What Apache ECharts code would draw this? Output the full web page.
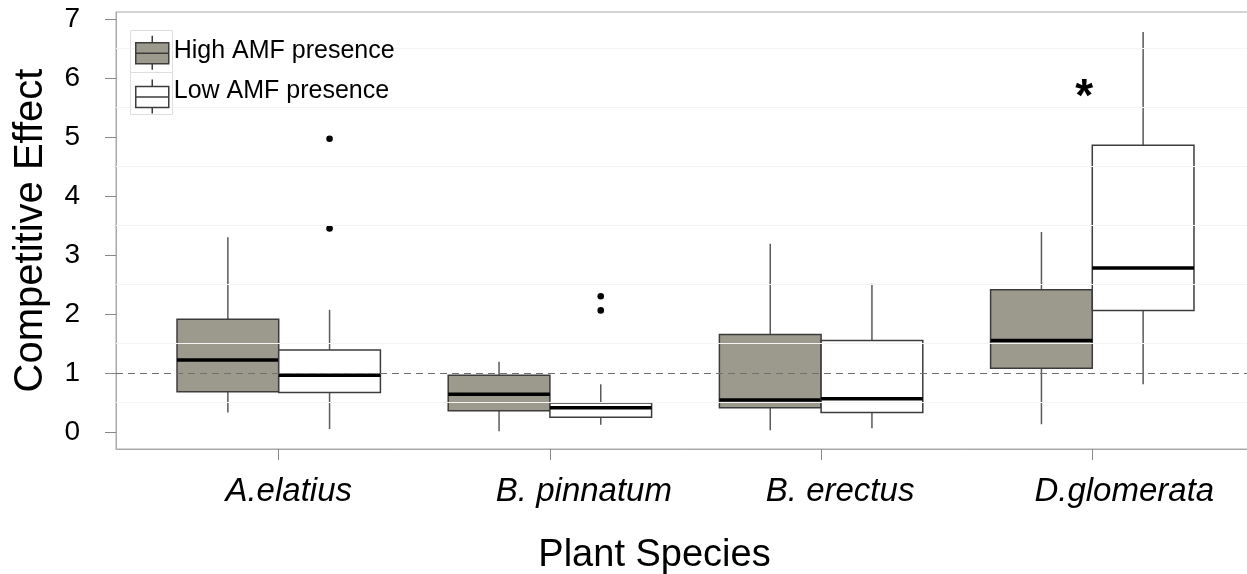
<!DOCTYPE html>
<html><head><meta charset="utf-8">
<script src="https://cdn.jsdelivr.net/npm/echarts@6/dist/echarts.min.js"></script>
<style>html,body{margin:0;padding:0;background:#fff}#c{width:1247px;height:574px}</style>
</head><body><div id="c"></div>
<script>
const categories = ['A.elatius', 'B. pinnatum', 'B. erectus', 'D.glomerata'];
const yTicks = [0, 1, 2, 3, 4, 5, 6, 7];
const xTicks = [1, 2, 3, 4];
const gridValues = [0.5, 1.5, 2.5, 3.5, 4.5, 5.5, 6.5];
const referenceLine = 1;
// [min, Q1, median, Q3, max]
const highAMF = [
  [0.33, 0.68, 1.22, 1.91, 3.30],
  [0.01, 0.36, 0.64, 0.96, 1.19],
  [0.03, 0.41, 0.54, 1.65, 3.19],
  [0.13, 1.08, 1.55, 2.41, 3.39]
];
const lowAMF = [
  [0.05, 0.67, 0.96, 1.39, 2.07],
  [0.12, 0.25, 0.41, 0.49, 0.81],
  [0.06, 0.33, 0.56, 1.55, 2.51],
  [0.81, 2.06, 2.78, 4.86, 6.78]
];
// [category index, value]
const lowOutliers = [[0, 4.97], [0, 3.45], [1, 2.30], [1, 2.06]];
const annotationPos = [[3, 5.66]];
const annotationText = ['*'];

const FONT = 'Liberation Sans';
const HIGH_FILL = '#9c9a8d';
const LOW_FILL = '#ffffff';
// horizontal label shift (px) of each category label, as in the original figure
const labelShift = [10, 34, 19, 32];

function boxRender(side, fill) {
  return function (params, api) {
    const c = api.value(0);
    const w = api.size([0.375, 0])[0];
    const cx = api.coord([c, 0])[0];
    const left = side < 0 ? cx - w : cx;
    const mid = left + w / 2;
    const y = k => api.coord([c, api.value(k)])[1];
    const yMin = y(1), yQ1 = y(2), yMed = y(3), yQ3 = y(4), yMax = y(5);
    return {
      type: 'group',
      children: [
        { type: 'line', shape: { x1: mid, y1: yQ3, x2: mid, y2: yMax }, style: { stroke: '#5a5a5a', lineWidth: 1.5 } },
        { type: 'line', shape: { x1: mid, y1: yQ1, x2: mid, y2: yMin }, style: { stroke: '#5a5a5a', lineWidth: 1.5 } },
        { type: 'rect', shape: { x: left, y: yQ3, width: w, height: yQ1 - yQ3 }, style: { fill: fill, stroke: '#3c3c3c', lineWidth: 1.5 } },
        { type: 'line', shape: { x1: left, y1: yMed, x2: left + w, y2: yMed }, style: { stroke: '#000', lineWidth: 3.5 } }
      ]
    };
  };
}

function outlierRender(params, api) {
  const c = api.value(0);
  const w = api.size([0.375, 0])[0];
  const p = api.coord([c, api.value(1)]);
  return { type: 'circle', shape: { cx: p[0] + w / 2, cy: p[1], r: 3.3 }, style: { fill: '#000' } };
}

function annotationRender(params, api) {
  const p = api.coord([api.value(0), api.value(1)]);
  return {
    type: 'text',
    x: p[0] - 8, y: p[1],
    style: { text: annotationText[params.dataIndex], font: 'bold 46px ' + FONT, fill: '#000', align: 'center', verticalAlign: 'middle' }
  };
}

const boxIcon = 'path://M0,7 L33,7 L33,28 L0,28 Z M0,17.5 L33,17.5 M16.5,0 L16.5,7 M16.5,28 L16.5,34';

const richLabels = {};
labelShift.forEach((s, i) => {
  richLabels['c' + i] = { fontSize: 33, fontStyle: 'italic', color: '#000', fontFamily: FONT, padding: [0, 0, 0, 2 * s] };
});

const legendNames = ['High AMF presence', 'Low AMF presence'];

const chart = echarts.init(document.getElementById('c'), null, { renderer: 'canvas' });
chart.setOption({
  animation: false,
  backgroundColor: '#fff',
  textStyle: { fontFamily: FONT },
  grid: { left: 116, top: 12, right: -8, bottom: 125, show: true, borderColor: '#a8a8a8', borderWidth: 1, outerBoundsMode: 'none' },
  graphic: [
    { type: 'rect', z: 1, shape: { x: 130.5, y: 30.5, width: 42, height: 42 }, style: { fill: '#fff', stroke: '#dedede', lineWidth: 1 } },
    { type: 'rect', z: 1, shape: { x: 130.5, y: 72.5, width: 42, height: 42 }, style: { fill: '#fff', stroke: '#dedede', lineWidth: 1 } }
  ],
  legend: {
    orient: 'vertical', left: 135, top: 35, itemWidth: 33, itemHeight: 34, itemGap: 8,
    padding: 0, z: 10,
    textStyle: {
      fontSize: 25, color: '#000', fontFamily: FONT,
      rich: {
        a: { fontSize: 25, color: '#000', fontFamily: FONT, padding: [0, 0, 3, 0] },
        b: { fontSize: 25, color: '#000', fontFamily: FONT, padding: [0, 0, 11, 0] }
      }
    },
    formatter: name => (name === legendNames[0] ? '{a|' : '{b|') + name + '}',
    data: [
      { name: legendNames[0], icon: boxIcon, itemStyle: { color: HIGH_FILL, borderColor: '#3c3c3c', borderWidth: 1.5 } },
      { name: legendNames[1], icon: boxIcon, itemStyle: { color: LOW_FILL, borderColor: '#3c3c3c', borderWidth: 1.5 } }
    ]
  },
  xAxis: {
    type: 'value', min: 0.4, max: 4.6,
    name: 'Plant Species', nameLocation: 'middle', nameGap: 88,
    nameTextStyle: { fontSize: 38, color: '#000', fontFamily: FONT, padding: [0, 62, 0, 0] },
    axisLine: { show: true, onZero: false, lineStyle: { color: '#a8a8a8', width: 1 } },
    axisTick: { show: true, customValues: xTicks, length: 11, lineStyle: { color: '#888', width: 1 } },
    axisLabel: { customValues: xTicks, margin: 26, fontSize: 33, fontStyle: 'italic', color: '#000', fontFamily: FONT,
      formatter: v => { const i = Math.round(v) - 1; return '{c' + i + '|' + categories[i] + '}'; },
      rich: richLabels },
    splitLine: { show: false }
  },
  yAxis: {
    type: 'value', min: -0.29, max: 7.12,
    name: 'Competitive Effect', nameLocation: 'middle', nameGap: 65,
    nameTextStyle: { fontSize: 40, color: '#000', fontFamily: FONT },
    axisLine: { show: true, onZero: false, lineStyle: { color: '#a8a8a8', width: 1 } },
    axisTick: { show: true, customValues: yTicks, length: 11, lineStyle: { color: '#888', width: 1 } },
    axisLabel: { customValues: yTicks, margin: 36, fontSize: 28, color: '#000', fontFamily: FONT },
    splitLine: { show: false }
  },
  series: [
    {
      type: 'line', data: [], silent: true,
      markLine: {
        silent: true, symbol: 'none', label: { show: false },
        data: gridValues.map(v => ({ yAxis: v, lineStyle: { color: '#f4f4f4', type: 'solid', width: 1 } }))
          .concat([{ yAxis: referenceLine, lineStyle: { color: '#707070', type: [7, 5], width: 1 } }])
      }
    },
    {
      name: legendNames[0], type: 'custom', renderItem: boxRender(-1, HIGH_FILL),
      itemStyle: { color: HIGH_FILL },
      encode: { x: 0, y: [1, 2, 3, 4, 5] },
      data: highAMF.map((b, i) => [i + 1].concat(b)), z: 3
    },
    {
      name: legendNames[1], type: 'custom', renderItem: boxRender(1, LOW_FILL),
      itemStyle: { color: LOW_FILL },
      encode: { x: 0, y: [1, 2, 3, 4, 5] },
      data: lowAMF.map((b, i) => [i + 1].concat(b)), z: 3
    },
    {
      type: 'custom', renderItem: outlierRender, encode: { x: 0, y: 1 },
      data: lowOutliers.map(o => [o[0] + 1, o[1]]), z: 4
    },
    {
      type: 'custom', renderItem: annotationRender, encode: { x: 0, y: 1 },
      data: annotationPos.map(a => [a[0] + 1, a[1]]), z: 4
    }
  ]
});
</script></body></html>
